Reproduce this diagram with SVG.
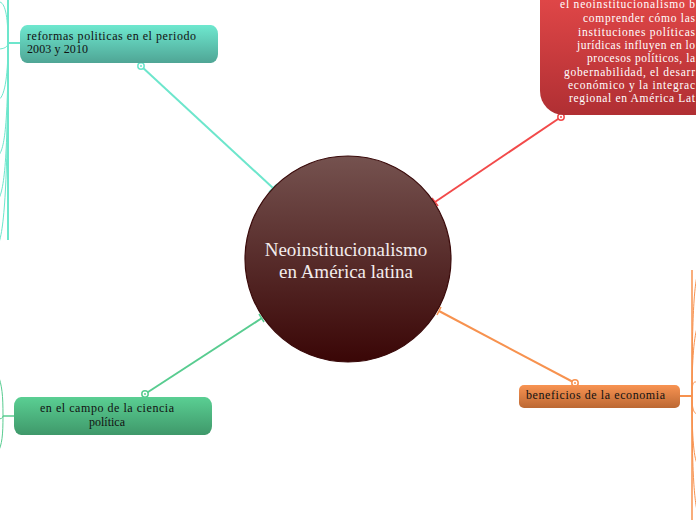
<svg xmlns="http://www.w3.org/2000/svg" width="696" height="520" viewBox="0 0 696 520">
<defs>
<linearGradient id="gCenter" x1="0" y1="0" x2="0" y2="1"><stop offset="0" stop-color="#75524f"/><stop offset="1" stop-color="#3a0606"/></linearGradient>
<linearGradient id="gTeal" x1="0" y1="0" x2="0" y2="1"><stop offset="0" stop-color="#6ee8cf"/><stop offset="1" stop-color="#4fa595"/></linearGradient>
<linearGradient id="gRed" x1="0" y1="0" x2="0" y2="1"><stop offset="0" stop-color="#ef4e4e"/><stop offset="1" stop-color="#b02f33"/></linearGradient>
<linearGradient id="gOrange" x1="0" y1="0" x2="0" y2="1"><stop offset="0" stop-color="#f89352"/><stop offset="1" stop-color="#bc6833"/></linearGradient>
<linearGradient id="gGreen" x1="0" y1="0" x2="0" y2="1"><stop offset="0" stop-color="#5acf93"/><stop offset="1" stop-color="#3f986a"/></linearGradient>
</defs>
<style>
.lbl{font-family:"Liberation Serif","Times New Roman",serif;font-size:12px;fill:#111;}
.wl{font-family:"Liberation Serif","Times New Roman",serif;font-size:11.5px;fill:#fff;}
.ct{font-family:"Liberation Serif","Times New Roman",serif;font-size:19px;fill:#f3ecec;text-anchor:middle;}
.thin{fill:none;stroke-width:1;}
</style>
<g id="connectors" fill="none">
<g stroke="#6de6cc">
<line x1="141" y1="66" x2="273" y2="188" stroke-width="2"/>
<line x1="269" y1="192" x2="277" y2="184" stroke-width="1.5"/>
<circle cx="141" cy="66" r="3.2" fill="#fff" stroke-width="1.5"/>
<circle cx="141" cy="66" r="1" fill="#6de6cc" stroke="none"/>
<line x1="8" y1="0" x2="8" y2="240" stroke-width="2"/>
<line x1="8" y1="43" x2="20" y2="43" stroke-width="2"/>
<path class="thin" d="M8,43 C8,20 6,4 0,2"/>
<path class="thin" d="M8,43 C8,47 4,49 -2,49"/>
<path class="thin" d="M8,43 C8,80 4,98 -2,100"/>
<path class="thin" d="M8,43 C8,120 5,150 -2,156"/>
<path class="thin" d="M8,43 C8,150 5,190 -2,200"/>
<path class="thin" d="M8,43 C8,170 5,230 -2,245"/>
</g>
<g stroke="#f24a4a">
<line x1="561" y1="117" x2="435" y2="202" stroke-width="2"/>
<line x1="432" y1="198" x2="438" y2="206" stroke-width="1.5"/>
<circle cx="561" cy="117" r="3.2" fill="#fff" stroke-width="1.5"/>
<circle cx="561" cy="117" r="1" fill="#f24a4a" stroke="none"/>
</g>
<g stroke="#f7924f">
<line x1="575" y1="383" x2="439" y2="311" stroke-width="2"/>
<line x1="441" y1="307" x2="437" y2="315" stroke-width="1.5"/>
<circle cx="575" cy="383" r="3.2" fill="#fff" stroke-width="1.5"/>
<circle cx="575" cy="383" r="1" fill="#f7924f" stroke="none"/>
<line x1="680" y1="396" x2="692" y2="396" stroke-width="2"/>
<line x1="692" y1="270" x2="692" y2="520" stroke-width="1.5"/>
<path class="thin" d="M692,396 C692,320 694,285 698,272"/>
<path class="thin" d="M692,396 C692,360 694,335 698,325"/>
<path class="thin" d="M692,396 C692,380 694,382 698,382"/>
<path class="thin" d="M692,396 C692,410 694,414 698,414"/>
<path class="thin" d="M692,396 C692,440 694,460 698,465"/>
<path class="thin" d="M692,396 C692,470 694,500 698,515"/>
</g>
<g stroke="#58cc90">
<line x1="145" y1="394" x2="262" y2="318" stroke-width="2"/>
<line x1="259" y1="314" x2="264" y2="322" stroke-width="1.5"/>
<circle cx="145" cy="394" r="3.2" fill="#fff" stroke-width="1.5"/>
<circle cx="145" cy="394" r="1" fill="#58cc90" stroke="none"/>
<line x1="3" y1="416" x2="14" y2="416" stroke-width="1.5"/>
<path class="thin" d="M3,416 C3,395 2,385 -2,375"/>
<path class="thin" d="M3,416 C3,435 2,445 -2,452"/>
<path class="thin" d="M3,416 C3,418 1,419 -2,419"/>
</g>
</g>
<g id="center">
<circle cx="348" cy="259" r="103" fill="url(#gCenter)" stroke="#3a0a0a" stroke-width="1.2"/>
<text class="ct" x="346" y="256">Neoinstitucionalismo</text>
<text class="ct" x="346" y="278">en América latina</text>
</g>
<g id="node-reformas">
<rect x="20" y="25" width="198" height="38" rx="7" ry="9" fill="url(#gTeal)"/>
<text class="lbl" x="27" y="40" textLength="169" lengthAdjust="spacing">reformas politicas en el periodo</text>
<text class="lbl" x="27" y="53" textLength="61" lengthAdjust="spacing">2003 y 2010</text>
</g>
<g id="node-neo">
<rect x="540" y="-40" width="220" height="155" rx="24" ry="24" fill="url(#gRed)"/>
<text class="wl" x="560" y="8" textLength="135" lengthAdjust="spacing">el neoinstitucionalismo b</text>
<text class="wl" x="583" y="22" textLength="112" lengthAdjust="spacing">comprender cómo las</text>
<text class="wl" x="578" y="36" textLength="117" lengthAdjust="spacing">instituciones políticas</text>
<text class="wl" x="577" y="49" textLength="118" lengthAdjust="spacing">jurídicas influyen en lo</text>
<text class="wl" x="587" y="62" textLength="108" lengthAdjust="spacing">procesos políticos, la</text>
<text class="wl" x="564" y="76" textLength="131" lengthAdjust="spacing">gobernabilidad, el desarr</text>
<text class="wl" x="568" y="89" textLength="127" lengthAdjust="spacing">económico y la integrac</text>
<text class="wl" x="569" y="102" textLength="126" lengthAdjust="spacing">regional en América Lat</text>
</g>
<g id="node-beneficios">
<rect x="519" y="385" width="161" height="23" rx="5" fill="url(#gOrange)"/>
<text class="lbl" x="526" y="399" textLength="139" lengthAdjust="spacing">beneficios de la economia</text>
</g>
<g id="node-ciencia">
<rect x="14" y="397" width="198" height="38" rx="7" ry="9" fill="url(#gGreen)"/>
<text class="lbl" x="40" y="412" textLength="134" lengthAdjust="spacing">en el campo de la ciencia</text>
<text class="lbl" x="107" y="426" text-anchor="middle">política</text>
</g>
</svg>
